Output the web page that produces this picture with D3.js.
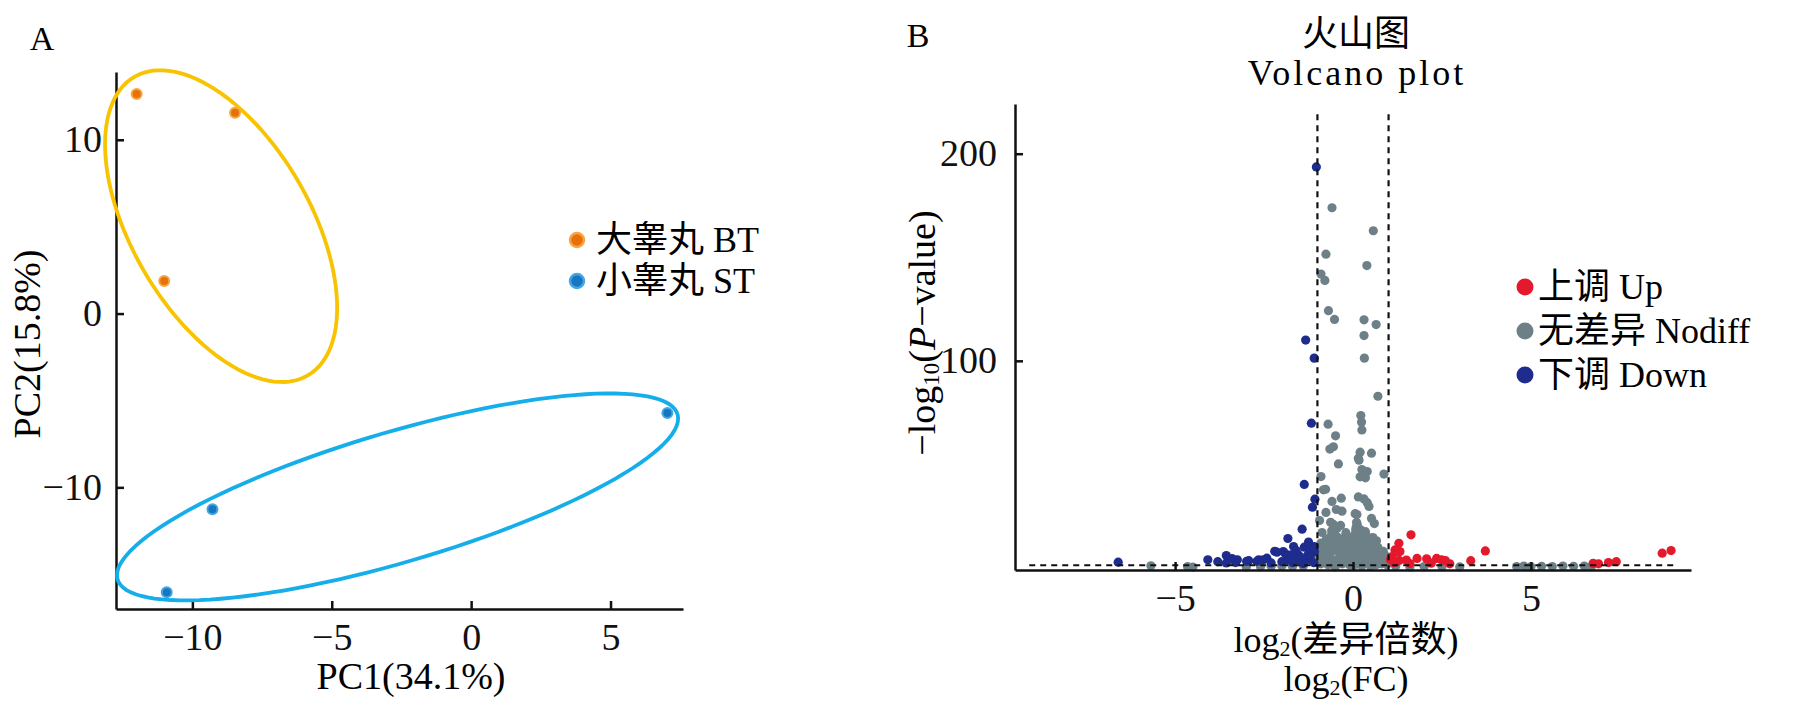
<!DOCTYPE html>
<html>
<head>
<meta charset="utf-8">
<script src="https://cdn.jsdelivr.net/npm/d3@7/dist/d3.min.js"></script>
<style>
  html, body { margin: 0; padding: 0; background: #ffffff; }
  svg { display: block; }
</style>
</head>
<body>
<svg id="chart" width="1795" height="707"></svg>
<script>
// ---------------- DATA ----------------
// Panel A: PCA
const pcaGroups = ["大睾丸 BT", "小睾丸 ST"];
const pcaBT = [[-12.0, 12.63], [-8.47, 11.55], [-11.01, 1.88]];
const pcaST = [[7.04, -5.72], [-9.28, -11.26], [-10.92, -16.03]];
// confidence ellipses: centre and [sxx, sxy, syy] (in data units)
const ellipseCenters = [[-8.97, 5.03], [-2.64, -10.55]];
const ellipseShapes = [[17.33, -19.57, 80.45], [101.3, 45.38, 35.45]];
const pcaXTicks = [-10, -5, 0, 5];
const pcaYTicks = [-10, 0, 10];
const pcaXLabel = "PC1(34.1%)";
const pcaYLabel = "PC2(15.8%)";

// Panel B: volcano plot  [log2FC, -log10 P]
const volcanoGroups = ["上调 Up", "无差异 Nodiff", "下调 Down"];
const upPoints = [
  [1.63, 16.0], [1.29, 11.9], [1.25, 7.9], [1.1, 5.5], [3.72, 8.2], [3.31, 3.5],
  [1.8, 4.6], [2.07, 4.4], [2.35, 4.6], [2.72, 2.0], [2.49, 3.9], [6.75, 2.2],
  [6.9, 2.0], [7.18, 2.6], [7.4, 3.0], [8.69, 7.1], [8.94, 8.4], [1.18, 8.7],
  [1.32, 7.9], [1.05, 3.9], [1.3, 3.6], [1.5, 3.8], [1.15, 2.5], [2.2, 2.3],
  [1.6, 2.1], [2.6, 3.5]
];
const downPoints = [
  [-1.03, 193.6], [-1.33, 110], [-1.09, 101.3], [-1.17, 69.9], [-1.37, 40.3],
  [-1.07, 33.2], [-1.14, 29.3], [-1.43, 18.7], [-1.83, 14.2], [-1.67, 10.3],
  [-1.37, 10], [-1.09, 10.3], [-2.14, 7.6], [-1.9, 6.8], [-1.54, 6.4], [-2.42, 4.7],
  [-2.65, 3.9], [-2.93, 3.5], [-3.25, 3.9], [-3.56, 6.0], [-3.56, 2.4], [-4.08, 3.9],
  [-6.6, 2.8], [-1.96, 7.9], [-1.74, 6.3], [-1.5, 5.5], [-1.27, 6.3], [-1.08, 7.9],
  [-1.84, 3.9], [-1.56, 3.9], [-1.28, 3.9], [-1.16, 9], [-2.2, 8.0], [-2.99, 3.2],
  [-2.7, 3.2], [-2.52, 3.9], [-3.3, 2.6], [-3.8, 3.0], [-2.3, 2.4], [-1.2, 5.0],
  [-1.1, 2.5], [-1.4, 2.2], [-1.7, 2.6], [-2.0, 3.0], [-3.4, 4.5], [-1.6, 8.4],
  [-1.25, 12.5]
];
const nodiffPoints = [
  [-0.59, 173.9], [0.57, 162.8], [-0.76, 151.5], [0.39, 146], [-0.9, 141.9],
  [-0.79, 138.8], [-0.69, 124.2], [-0.52, 120], [0.31, 119.8], [0.65, 117.5],
  [0.31, 112.2], [0.32, 101.3], [0.70, 82.9], [-0.70, 69.4], [0.22, 73.6],
  [0.24, 70.4], [0.25, 66.6], [-0.49, 63.8], [-0.55, 58.5], [-0.65, 57.4],
  [0.2, 55.9], [0.15, 53], [0.52, 55.4], [-0.41, 50.2], [0.87, 45.3], [0.25, 47.5],
  [0.3, 45], [0.35, 43.5], [0.4, 46.5], [0.2, 44], [0.17, 52], [-0.9, 44.1],
  [-0.77, 38], [-0.33, 33.7], [-0.59, 32.1], [0.15, 34.3], [0.31, 33.3], [0.45, 29.7],
  [0.4, 31.5], [-0.47, 28.2], [-0.31, 27.4], [-0.76, 26.8], [0.11, 25.8], [0.52, 23.9],
  [0.6, 21.4], [0.06, 26.2], [-0.83, 37.7], [-0.94, 22.9], [-0.87, 17.1], [-0.63, 22],
  [-0.55, 21], [-0.35, 20.5], [-0.45, 19], [0.1, 22], [0.1, 20], [0.08, 17.8],
  [0.24, 17.1], [0.56, 14.7], [0.66, 13.1],
  [-0.9, 12], [-0.85, 8], [-0.8, 4], [-0.75, 14], [-0.7, 10], [-0.65, 6], [-0.6, 16],
  [-0.6, 2.5], [-0.55, 12], [-0.5, 8.5], [-0.45, 15], [-0.45, 4], [-0.4, 11],
  [-0.35, 6.5], [-0.3, 14], [-0.3, 2], [-0.25, 9], [-0.2, 4.5], [-0.15, 12], [-0.1, 7],
  [-0.1, 1.5], [-0.05, 10], [0, 3.5], [0, 14], [0.05, 6], [0.08, 19], [0.1, 11],
  [0.1, 1.8], [0.15, 15.5], [0.15, 8], [0.2, 4], [0.2, 13], [0.25, 10], [0.3, 6.5],
  [0.3, 2], [0.35, 12], [0.4, 8.5], [0.45, 4], [0.45, 14.5], [0.5, 10], [0.55, 6],
  [0.6, 2.5], [0.65, 9], [0.7, 4.5], [0.75, 7], [0.8, 2], [0.85, 5], [0.9, 3],
  [0.95, 1.5], [-0.95, 3], [-0.95, 6], [-0.7, 1.5], [-0.2, 17], [0.35, 17.5],
  [-0.05, 5], [0.0, 8.5], [0.05, 12.5], [-0.35, 9.5], [0.25, 1],
  [-0.85, 10.5], [-0.7, 12.5], [-0.55, 14.5], [-0.4, 13], [-0.25, 11.5], [-0.15, 15],
  [-0.05, 13], [0.05, 16], [0.12, 21], [0.2, 18.5], [0.3, 15], [0.4, 12], [0.55, 11],
  [0.7, 10], [0.85, 8], [0.9, 6], [-0.9, 2], [-0.75, 8], [-0.5, 3], [-0.25, 6],
  [0.0, 1.2], [0.15, 3], [0.4, 2.5], [0.65, 1.5], [0.8, 4.5], [-0.6, 18],
  [-5.68, 1.0], [-4.65, 0.6], [-4.5, 0.4], [-2.3, 0.8], [-2.0, 0.9], [-1.7, 0.7],
  [-1.4, 0.9], [-3.0, 0.5], [-2.6, 0.6], [1.2, 0.8], [1.6, 0.5], [2.0, 0.7], [2.5, 0.6],
  [3.0, 0.5], [4.6, 0.7], [4.8, 0.9], [5.0, 0.6], [5.3, 0.8], [5.6, 0.7], [5.9, 0.9],
  [6.2, 0.8], [6.5, 0.9], [6.7, 0.7], [-0.5, 0.5], [0.5, 0.6]
];
const volcanoXTicks = [-5, 0, 5];
const volcanoYTicks = [100, 200];
const fcThresholds = [-1, 1];
const pThreshold = 1.3;

// ---------------- DRAW ----------------
const svg = d3.select("#chart");
const SERIF = "'Liberation Serif', 'Noto Sans CJK SC', serif";

function styleAxis(g, size) {
  g.attr("font-family", SERIF).attr("font-size", size);
  g.select(".domain").attr("stroke", "#111").attr("stroke-width", 2.5);
  g.selectAll(".tick line").attr("stroke", "#111").attr("stroke-width", 2.5);
  g.selectAll(".tick text").attr("fill", "#111");
}

// ===== Panel A =====
const xA = d3.scaleLinear().domain([-12.74, 7.6]).range([116, 683]);
const yA = d3.scaleLinear().domain([-17.0, 13.9]).range([609, 72]);

svg.append("text").attr("x", 42).attr("y", 38).attr("dominant-baseline", "central")
  .attr("text-anchor", "middle").attr("font-family", SERIF).attr("font-size", 34).text("A");

const gAx = svg.append("g").attr("transform", `translate(0,${yA.range()[0]})`)
  .call(d3.axisBottom(xA).tickValues(pcaXTicks).tickSizeInner(-8).tickSizeOuter(0).tickPadding(14));
styleAxis(gAx, 38);
const gAy = svg.append("g").attr("transform", `translate(${xA.range()[0]},0)`)
  .call(d3.axisLeft(yA).tickValues(pcaYTicks).tickSizeInner(-8).tickSizeOuter(0).tickPadding(14));
styleAxis(gAy, 38);

svg.append("text").attr("x", 411).attr("y", 676).attr("dominant-baseline", "central")
  .attr("text-anchor", "middle").attr("font-family", SERIF).attr("font-size", 38).text(pcaXLabel);
svg.append("text").attr("transform", "translate(27,344) rotate(-90)").attr("dominant-baseline", "central")
  .attr("text-anchor", "middle").attr("font-family", SERIF).attr("font-size", 38).text(pcaYLabel);

const ellipseColors = ["#F8C300", "#16AEEA"];
ellipseCenters.forEach((c, i) => {
  const [sxx, sxy, syy] = ellipseShapes[i];
  const l11 = Math.sqrt(sxx), l21 = sxy / l11, l22 = Math.sqrt(syy - l21 * l21);
  const pts = d3.range(0, 361, 3).map(d => {
    const t = d * Math.PI / 180;
    return [c[0] + l11 * Math.cos(t), c[1] + l21 * Math.cos(t) + l22 * Math.sin(t)];
  });
  svg.append("path")
    .attr("d", d3.line().x(p => xA(p[0])).y(p => yA(p[1])).curve(d3.curveLinearClosed)(pts))
    .attr("fill", "none").attr("stroke", ellipseColors[i]).attr("stroke-width", 3.8);
});

const pcaFill = ["#E8700A", "#1776C2"];
const pcaRing = ["#F6A640", "#45A6E2"];
[pcaBT, pcaST].forEach((arr, i) => {
  svg.append("g").selectAll("circle").data(arr).join("circle")
    .attr("cx", d => xA(d[0])).attr("cy", d => yA(d[1])).attr("r", 5)
    .attr("fill", pcaFill[i]).attr("stroke", pcaRing[i]).attr("stroke-width", 2);
});

// legend A
const legA = svg.append("g");
pcaGroups.forEach((g, i) => {
  const y = 240 + i * 41;
  legA.append("circle").attr("cx", 577).attr("cy", y).attr("r", 7)
    .attr("fill", pcaFill[i]).attr("stroke", pcaRing[i]).attr("stroke-width", 2.5);
  legA.append("text").attr("x", 596).attr("y", y).attr("dominant-baseline", "central")
    .attr("font-family", SERIF).attr("font-size", 36).text(g);
});

// ===== Panel B =====
const xB = d3.scaleLinear().domain([-9.5, 9.5]).range([1015, 1691]);
const yB = d3.scaleLinear().domain([-1, 224]).range([570, 104]);

svg.append("text").attr("x", 918).attr("y", 35).attr("dominant-baseline", "central")
  .attr("text-anchor", "middle").attr("font-family", SERIF).attr("font-size", 34).text("B");
svg.append("text").attr("x", 1356).attr("y", 34).attr("dominant-baseline", "central")
  .attr("text-anchor", "middle").attr("font-family", SERIF).attr("font-size", 36).text("火山图");
svg.append("text").attr("x", 1357).attr("y", 73).attr("dominant-baseline", "central")
  .attr("text-anchor", "middle").attr("font-family", SERIF).attr("font-size", 36)
  .attr("letter-spacing", 3).text("Volcano plot");

const colNodiff = "#6E8087", colDown = "#1E2C8E", colUp = "#E41A2C";
const pointGroups = [[nodiffPoints, colNodiff], [downPoints, colDown], [upPoints, colUp]];
pointGroups.forEach(([arr, col]) => {
  svg.append("g").selectAll("circle").data(arr).join("circle")
    .attr("cx", d => xB(d[0])).attr("cy", d => yB(d[1])).attr("r", 4.6)
    .attr("fill", col);
});

// threshold lines
fcThresholds.forEach(v => {
  svg.append("line").attr("x1", xB(v)).attr("x2", xB(v)).attr("y1", yB(219)).attr("y2", yB.range()[0])
    .attr("stroke", "#111").attr("stroke-width", 2.2).attr("stroke-dasharray", "6,5");
});
svg.append("line").attr("x1", xB(-9.1)).attr("x2", xB(9.1)).attr("y1", yB(pThreshold)).attr("y2", yB(pThreshold))
  .attr("stroke", "#111").attr("stroke-width", 2.2).attr("stroke-dasharray", "6,5");

const gBx = svg.append("g").attr("transform", `translate(0,${yB.range()[0]})`)
  .call(d3.axisBottom(xB).tickValues(volcanoXTicks).tickSizeInner(-8).tickSizeOuter(0).tickPadding(14));
styleAxis(gBx, 38);
const gBy = svg.append("g").attr("transform", `translate(${xB.range()[0]},0)`)
  .call(d3.axisLeft(yB).tickValues(volcanoYTicks).tickSizeInner(-8).tickSizeOuter(0).tickPadding(18));
styleAxis(gBy, 38);

// axis labels B
const xl1 = svg.append("text").attr("x", 1346).attr("y", 640).attr("dominant-baseline", "central")
  .attr("text-anchor", "middle").attr("font-family", SERIF).attr("font-size", 36);
xl1.append("tspan").text("log");
xl1.append("tspan").attr("font-size", 22).attr("dy", 8).text("2");
xl1.append("tspan").attr("dy", -8).text("(差异倍数)");
const xl2 = svg.append("text").attr("x", 1346).attr("y", 679).attr("dominant-baseline", "central")
  .attr("text-anchor", "middle").attr("font-family", SERIF).attr("font-size", 36);
xl2.append("tspan").text("log");
xl2.append("tspan").attr("font-size", 22).attr("dy", 8).text("2");
xl2.append("tspan").attr("dy", -8).text("(FC)");

const yl = svg.append("text").attr("transform", "translate(922,333) rotate(-90)").attr("dominant-baseline", "central")
  .attr("text-anchor", "middle").attr("font-family", SERIF).attr("font-size", 38);
yl.append("tspan").text("−log");
yl.append("tspan").attr("font-size", 23).attr("dy", 9).text("10");
yl.append("tspan").attr("dy", -9).text("(");
yl.append("tspan").attr("font-style", "italic").text("P");
yl.append("tspan").text("−value)");

// legend B
const legCols = [colUp, colNodiff, colDown];
volcanoGroups.forEach((g, i) => {
  const y = 287 + i * 44;
  svg.append("circle").attr("cx", 1525).attr("cy", y).attr("r", 8.5).attr("fill", legCols[i]);
  svg.append("text").attr("x", 1538).attr("y", y).attr("dominant-baseline", "central")
    .attr("font-family", SERIF).attr("font-size", 36).text(g);
});
</script>
</body>
</html>
